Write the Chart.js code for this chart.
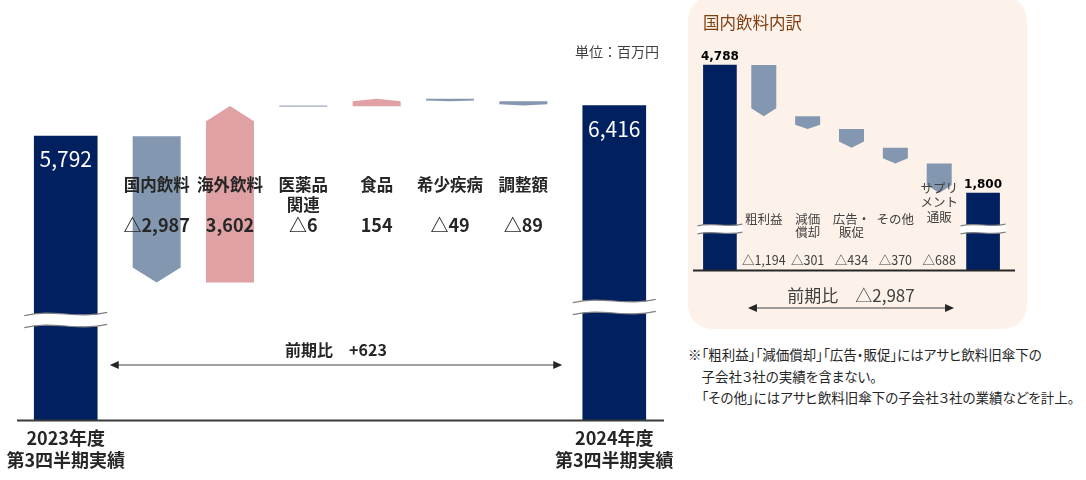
<!DOCTYPE html>
<html lang="ja">
<head>
<meta charset="utf-8">
<script src="https://cdn.jsdelivr.net/npm/chart.js@4.4.1/dist/chart.umd.min.js"></script>
<style>
html,body{margin:0;padding:0;background:#fff;}
body{width:1086px;height:480px;position:relative;overflow:hidden;font-family:"Noto Sans CJK JP","Noto Sans",sans-serif;}
#mainWrap{position:absolute;left:0;top:0;width:680px;height:480px;}
#panel{position:absolute;left:688px;top:-4px;width:339px;height:333px;background:#FDF2EA;border-radius:24px;}
#insetWrap{position:absolute;left:688px;top:0;width:340px;height:330px;}
#title{position:absolute;left:703px;top:10px;font-size:16.5px;color:#7F3F10;line-height:24px;}
#unit{position:absolute;left:575px;top:41px;font-size:14px;color:#404040;line-height:20px;}
#note{position:absolute;left:688px;top:344px;font-size:13.5px;color:#262626;line-height:21.5px;font-feature-settings:"palt";white-space:pre;}
canvas{display:block;}
</style>
</head>
<body>
<div id="mainWrap"><canvas id="mainChart" width="680" height="480" style="width:680px;height:480px"></canvas></div>
<div id="unit">単位：百万円</div>
<div id="panel"></div>
<div id="insetWrap"><canvas id="insetChart" width="340" height="330" style="width:340px;height:330px"></canvas></div>
<div id="title">国内飲料内訳</div>
<div id="note">※「粗利益」「減価償却」「広告・販促」にはアサヒ飲料旧傘下の
　子会社３社の実績を含まない。
　「その他」にはアサヒ飲料旧傘下の子会社３社の業績などを計上。</div>
<script>
// ---------------- DATA ----------------
const mainCategories = ['国内飲料', '海外飲料', '医薬品関連', '食品', '希少疾病', '調整額'];
const mainCategoryLines = [['国内飲料'], ['海外飲料'], ['医薬品', '関連'], ['食品'], ['希少疾病'], ['調整額']];
const mainChanges = [-2987, 3602, -6, 154, -49, -89];
const mainTotals = [5792, 6416];
const mainTotalLabels = [['2023年度', '第3四半期実績'], ['2024年度', '第3四半期実績']];
const mainDiff = 623;

const insetCategories = ['粗利益', '減価償却', '広告・販促', 'その他', 'サプリメント通販'];
const insetCategoryLines = [['粗利益'], ['減価', '償却'], ['広告・', '販促'], ['その他'], ['サプリ', 'メント', '通販']];
const insetChanges = [-1194, -301, -434, -370, -688];
const insetTotals = [4788, 1800];
const insetDiff = -2987;

// ---------------- STYLE ----------------
const NAVY = '#002060', BLUE = '#8497B0', PINK = '#DFA1A3', TXT = '#262626', TXT2 = '#404040';
const JP = '"Noto Sans CJK JP", "Noto Sans", sans-serif';
const END_GAP = 1.24; // spacing of total bars from the change bars (in category units)

function fmt(v) {
  const s = Math.abs(v).toLocaleString('en-US');
  return v < 0 ? '△' + s : s;
}
function fmtSigned(v) {
  const s = Math.abs(v).toLocaleString('en-US');
  return v < 0 ? '△' + s : '+' + s;
}
function ranges(start, changes) {
  const out = []; let run = start;
  changes.forEach(c => { out.push([run, run + c]); run += c; });
  return out;
}
const mainRanges = ranges(mainTotals[0], mainChanges);
const insetRanges = ranges(insetTotals[0], insetChanges);

function drawArrow(ctx, xc, w, ps, pe, color) {
  const len = Math.abs(pe - ps);
  const xl = xc - w / 2, xr = xc + w / 2;
  ctx.save();
  ctx.fillStyle = color;
  if (len < 1.5) {
    ctx.fillRect(xl, Math.min(ps, pe) - 0.5, w, Math.max(1, len));
    ctx.restore();
    return;
  }
  const dir = pe > ps ? 1 : -1;
  const h = Math.min(0.63 * w / 2, 0.33 * len);
  ctx.beginPath();
  ctx.moveTo(xl, ps);
  ctx.lineTo(xr, ps);
  ctx.lineTo(xr, pe - dir * h);
  ctx.lineTo(xc, pe);
  ctx.lineTo(xl, pe - dir * h);
  ctx.closePath();
  ctx.fill();
  ctx.restore();
}

function drawBreak(ctx, x0, x1, yc, gap) {
  const w = x1 - x0, a = w * 0.065;
  const yt = yc - gap / 2, yb = yc + gap / 2;
  ctx.save();
  ctx.beginPath();
  ctx.moveTo(x0, yt + a * 0.3);
  ctx.bezierCurveTo(x0 + 0.35 * w, yt - a, x0 + 0.65 * w, yt + a, x1, yt - a * 0.3);
  ctx.lineTo(x1, yb - a * 0.3);
  ctx.bezierCurveTo(x0 + 0.65 * w, yb + a, x0 + 0.35 * w, yb - a, x0, yb + a * 0.3);
  ctx.closePath();
  ctx.fillStyle = '#ffffff';
  ctx.fill();
  ctx.beginPath();
  ctx.moveTo(x0, yt + a * 0.3);
  ctx.bezierCurveTo(x0 + 0.35 * w, yt - a, x0 + 0.65 * w, yt + a, x1, yt - a * 0.3);
  ctx.moveTo(x0, yb + a * 0.3);
  ctx.bezierCurveTo(x0 + 0.35 * w, yb - a, x0 + 0.65 * w, yb + a, x1, yb - a * 0.3);
  ctx.strokeStyle = '#808080';
  ctx.lineWidth = 1.2;
  ctx.stroke();
  ctx.restore();
}

function drawDoubleArrow(ctx, x0, x1, y) {
  ctx.save();
  ctx.strokeStyle = '#404040';
  ctx.fillStyle = '#262626';
  ctx.lineWidth = 1;
  ctx.beginPath();
  ctx.moveTo(x0 + 4, y); ctx.lineTo(x1 - 4, y); ctx.stroke();
  ctx.beginPath();
  ctx.moveTo(x0, y); ctx.lineTo(x0 + 9, y - 4); ctx.lineTo(x0 + 9, y + 4); ctx.closePath(); ctx.fill();
  ctx.beginPath();
  ctx.moveTo(x1, y); ctx.lineTo(x1 - 9, y - 4); ctx.lineTo(x1 - 9, y + 4); ctx.closePath(); ctx.fill();
  ctx.restore();
}

function text(ctx, str, x, y, font, color, align) {
  ctx.save();
  ctx.font = font;
  ctx.fillStyle = color;
  ctx.textAlign = align || 'center';
  ctx.textBaseline = 'middle';
  ctx.fillText(str, x, y);
  ctx.restore();
}

// ---------------- MAIN CHART ----------------
const mainDecor = {
  id: 'mainDecor',
  afterDatasetsDraw(chart) {
    const ctx = chart.ctx, ys = chart.scales.y, area = chart.chartArea;
    const tot = chart.getDatasetMeta(0).data, chg = chart.getDatasetMeta(1).data;
    chg.forEach((el, i) => {
      const p = el.getProps(['x', 'width'], true);
      drawArrow(ctx, p.x, p.width, ys.getPixelForValue(mainRanges[i][0]), ys.getPixelForValue(mainRanges[i][1]), mainChanges[i] < 0 ? BLUE : PINK);
    });
    // axis line
    ctx.save();
    ctx.strokeStyle = '#3a3a3a'; ctx.lineWidth = 2;
    ctx.beginPath(); ctx.moveTo(area.left + 7, area.bottom + 0.5); ctx.lineTo(area.right - 6, area.bottom + 0.5); ctx.stroke();
    ctx.restore();
    // breaks
    const breakOffsets = [100, 113];
    tot.forEach((el, i) => {
      const p = el.getProps(['x', 'width', 'y'], true);
      drawBreak(ctx, p.x - p.width / 2 - 10, p.x + p.width / 2 + 10, area.bottom - breakOffsets[i], 12);
      text(ctx, mainTotals[i].toLocaleString('en-US'), p.x, p.y + 23, '21px ' + JP, '#ffffff');
      mainTotalLabels[i].forEach((ln, k) => text(ctx, ln, p.x, 438 + k * 22, 'bold 18px ' + JP, TXT));
    });
    // category labels and values
    chg.forEach((el, i) => {
      const p = el.getProps(['x'], true);
      mainCategoryLines[i].forEach((ln, k) => text(ctx, ln, p.x, 185 + k * 19.5, 'bold 16.5px ' + JP, TXT));
      text(ctx, fmt(mainChanges[i]), p.x, 225, 'bold 18px ' + JP, TXT);
    });
    // comparison arrow
    const x0 = tot[0].getProps(['x'], true).x + 44, x1 = tot[1].getProps(['x'], true).x - 52;
    text(ctx, '前期比　' + fmtSigned(mainDiff), (x0 + x1) / 2, 350, 'bold 16px ' + JP, TXT);
    drawDoubleArrow(ctx, x0, x1, 365);
  }
};

new Chart(document.getElementById('mainChart'), {
  type: 'bar',
  data: {
    datasets: [
      {
        label: '実績',
        data: mainTotals.map((v, i) => ({ x: i === 0 ? -END_GAP : mainChanges.length - 1 + END_GAP, y: v })),
        backgroundColor: NAVY,
        barThickness: 63,
        grouped: false
      },
      {
        label: '増減',
        data: mainRanges.map((r, i) => ({ x: i, y: r })),
        backgroundColor: 'rgba(0,0,0,0)',
        barThickness: 48,
        grouped: false
      }
    ]
  },
  options: {
    responsive: false,
    animation: false,
    devicePixelRatio: 1,
    layout: { padding: { left: 10, right: 10, top: 28, bottom: 60 } },
    plugins: { legend: { display: false }, tooltip: { enabled: false } },
    scales: {
      x: { type: 'linear', min: -2, max: 7, offset: false, grid: { offset: false }, display: false },
      y: { min: 0, max: 8000, display: false }
    }
  },
  plugins: [mainDecor]
});

// ---------------- INSET CHART ----------------
const insetDecor = {
  id: 'insetDecor',
  afterDatasetsDraw(chart) {
    const ctx = chart.ctx, ys = chart.scales.y, area = chart.chartArea;
    const tot = chart.getDatasetMeta(0).data, chg = chart.getDatasetMeta(1).data;
    const n = insetChanges.length;
    chg.forEach((el, i) => {
      if (i < 1 || i > n) return;
      const p = el.getProps(['x', 'width'], true);
      const r = insetRanges[i - 1];
      drawArrow(ctx, p.x, p.width, ys.getPixelForValue(r[0]), ys.getPixelForValue(r[1]), BLUE);
      const lines = insetCategoryLines[i - 1];
      const y0 = lines.length > 2 ? 217 - (lines.length - 1) * 14.5 : 219;
      lines.forEach((ln, k) => text(ctx, ln, p.x, y0 + k * (lines.length > 2 ? 14.5 : 13.5), '12.5px ' + JP, TXT2));
      text(ctx, fmt(insetChanges[i - 1]), p.x, 260, '12.5px ' + JP, TXT2);
    });
    // axis line
    ctx.save();
    ctx.strokeStyle = '#262626'; ctx.lineWidth = 2;
    ctx.beginPath(); ctx.moveTo(area.left - 5, area.bottom + 0.5); ctx.lineTo(area.right + 10, area.bottom + 0.5); ctx.stroke();
    ctx.restore();
    const totIdx = [0, n + 1];
    totIdx.forEach((idx, i) => {
      const p = tot[idx].getProps(['x', 'width', 'y'], true);
      drawBreak(ctx, p.x - p.width / 2 - 6, p.x + p.width / 2 + 6, area.bottom - 41, 8);
      text(ctx, insetTotals[i].toLocaleString('en-US'), p.x, p.y - 8, 'bold 12px "DejaVu Sans", sans-serif', '#000000');
    });
    const x0 = tot[0].getProps(['x'], true).x + 28;
    const x1 = tot[n + 1].getProps(['x'], true).x - 29;
    text(ctx, '前期比　' + fmtSigned(insetDiff), (x0 + x1) / 2, 296, '17px ' + JP, TXT2);
    drawDoubleArrow(ctx, x0, x1, 308);
  }
};

const insetLabels = ['前年'].concat(insetCategories, ['当年']);
new Chart(document.getElementById('insetChart'), {
  type: 'bar',
  data: {
    labels: insetLabels,
    datasets: [
      {
        label: '実績',
        data: insetLabels.map((_, i) => i === 0 ? insetTotals[0] : (i === insetLabels.length - 1 ? insetTotals[1] : null)),
        backgroundColor: NAVY,
        barThickness: 33,
        grouped: false
      },
      {
        label: '増減',
        data: insetLabels.map((_, i) => (i >= 1 && i <= insetChanges.length) ? insetRanges[i - 1] : null),
        backgroundColor: 'rgba(0,0,0,0)',
        barThickness: 25,
        grouped: false
      }
    ]
  },
  options: {
    responsive: false,
    animation: false,
    devicePixelRatio: 1,
    layout: { padding: { left: 10, right: 23, top: 56, bottom: 60 } },
    plugins: { legend: { display: false }, tooltip: { enabled: false } },
    scales: {
      x: { display: false },
      y: { min: 0, max: 5000, display: false }
    }
  },
  plugins: [insetDecor]
});
</script>
</body>
</html>
